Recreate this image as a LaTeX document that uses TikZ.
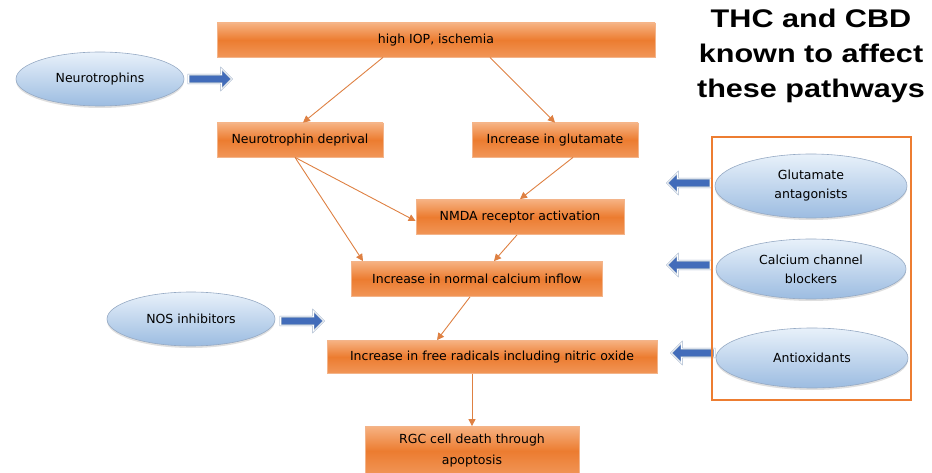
\documentclass[tikz,border=0pt]{standalone}
\usepackage{fontspec}
\setmainfont{DejaVu Sans}
\newfontfamily\titlefont{Liberation Sans}[FakeStretch=1.2]
\usepackage{tikz}
\usepackage{xcolor}
\usetikzlibrary{positioning, arrows.meta, shapes.geometric, shapes.arrows, shadows}

\definecolor{boxtop}{RGB}{246,178,130}
\definecolor{boxmid}{RGB}{236,124,48}
\definecolor{boxbot}{RGB}{241,150,88}
\definecolor{boxline}{RGB}{243,180,138}
\definecolor{flowline}{RGB}{222,128,66}
\definecolor{drugtop}{RGB}{232,241,250}
\definecolor{drugbot}{RGB}{156,188,225}
\definecolor{drugline}{RGB}{150,170,196}
\definecolor{pushblue}{RGB}{66,108,186}
\definecolor{frameorange}{RGB}{237,125,49}

\begin{document}
\begin{tikzpicture}[
        x=1pt, y=-1pt,
        stepbox/.style={rectangle, draw=boxline, line width=0.8pt,
            top color=boxtop, bottom color=boxbot, middle color=boxmid,
            font=\fontsize{12.5}{21}\selectfont, text=black, align=center, inner sep=0pt},
        drug/.style={ellipse, draw=drugline, line width=0.6pt,
            top color=drugtop, bottom color=drugbot,
            drop shadow={opacity=0.25, shadow xshift=0pt, shadow yshift=-2pt},
            font=\fontsize{12.5}{19}\selectfont, text=black, align=center, inner sep=0pt},
        push/.style={single arrow, draw=drugline, double=white, double distance=0.8pt,
            line width=0.5pt, fill=pushblue,
            minimum height=43pt, single arrow head extend=6pt,
            inner xsep=0pt, inner ysep=4pt},
        flow/.style={draw=flowline, line width=0.9pt, -{Triangle[width=7pt, length=7pt]}},
    ]
    \useasboundingbox (0,0) rectangle (932,473);

    \node[stepbox, minimum width=438pt, minimum height=34pt] (iop) at (436,40) {high IOP, ischemia};
    \node[stepbox, minimum width=166pt, minimum height=34pt] (ntdep) at (300,140) {Neurotrophin deprival};
    \node[stepbox, minimum width=166pt, minimum height=34pt] (glu) at (555,140) {Increase in glutamate};
    \node[stepbox, minimum width=208pt, minimum height=35pt] (nmda) at (520,217) {NMDA receptor activation};
    \node[stepbox, minimum width=251pt, minimum height=35pt] (calc) at (477,279) {Increase in normal calcium inflow};
    \node[stepbox, minimum width=330pt, minimum height=33pt] (free) at (492,357) {Increase in free radicals including nitric oxide};
    \node[stepbox, minimum width=214pt, minimum height=49pt] (rgc) at (472,451) {RGC cell death through\\apoptosis};

    \node[drug, minimum width=168pt, minimum height=54pt] (neuro) at (100,79) {Neurotrophins};
    \node[drug, minimum width=168pt, minimum height=54pt] (nos) at (191,319) {NOS inhibitors};
    \node[drug, minimum width=192pt, minimum height=64pt] (gluant) at (811,186) {Glutamate\\antagonists};
    \node[drug, minimum width=190pt, minimum height=60pt] (ccb) at (811,269) {Calcium channel\\blockers};
    \node[drug, minimum width=192pt, minimum height=60pt] (antiox) at (812,358) {Antioxidants};

    \node[push] (neuropush) at (208,79) {};
    \node[push] (nospush) at (300,321) {};
    \node[push, shape border rotate=180] (glupush) at (691,183) {};
    \node[push, shape border rotate=180] (ccbpush) at (691,265) {};
    \node[push, shape border rotate=180] (antioxpush) at (695,353) {};

    \draw[frameorange, line width=1.6pt] (712,137) rectangle (911,400);

    \node[font=\titlefont\bfseries\fontsize{25.5}{35}\selectfont, align=center, inner sep=0pt,
        anchor=north] (title) at (811,9)
        {THC and CBD\\known to affect\\these pathways};

    \draw[flow] ([xshift=-53pt]iop.south) -- ([xshift=3pt]ntdep.north);
    \draw[flow] ([xshift=54pt]iop.south) -- (glu.north);
    \draw[flow] ([xshift=-5pt]ntdep.south) -- ([yshift=-4pt]nmda.west);
    \draw[flow] ([xshift=18pt]glu.south) -- (nmda.north);
    \draw[flow] ([xshift=-5pt]ntdep.south) -- ([xshift=-114pt]calc.north);
    \draw[flow] ([xshift=-3pt]nmda.south) -- ([xshift=17pt]calc.north);
    \draw[flow] ([xshift=-7pt]calc.south) -- ([xshift=-55pt]free.north);
    \draw[flow] (free.south -| rgc.north) -- (rgc.north);
\end{tikzpicture}
\end{document}
